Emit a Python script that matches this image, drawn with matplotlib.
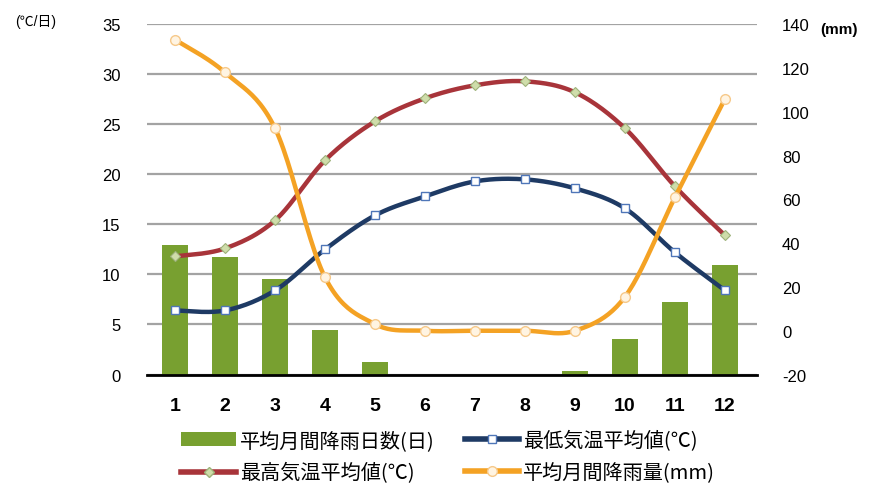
import numpy as np
import matplotlib
matplotlib.use("Agg")
import matplotlib.pyplot as plt
from matplotlib.lines import Line2D
from matplotlib.patches import Patch

plt.rcParams['font.family'] = ['Liberation Sans', 'Noto Sans CJK JP', 'DejaVu Sans']

months = [1, 2, 3, 4, 5, 6, 7, 8, 9, 10, 11, 12]
month_labels = ['1', '2', '3', '4', '5', '6', '7', '8', '9', '10', '11', '12']
rain_days = [12.9, 11.7, 9.5, 4.4, 1.2, 0, 0, 0, 0.3, 3.5, 7.2, 10.9]
temp_max = [11.8, 12.6, 15.4, 21.4, 25.3, 27.6, 28.9, 29.3, 28.2, 24.6, 18.8, 13.9]
temp_min = [6.4, 6.4, 8.4, 12.5, 15.9, 17.8, 19.3, 19.5, 18.6, 16.6, 12.2, 8.4]
rain_mm = [133, 118, 92.5, 24.4, 3, 0, 0, 0, 0, 15.5, 61, 106]

left_ticks = [0, 5, 10, 15, 20, 25, 30, 35]
right_ticks = [-20, 0, 20, 40, 60, 80, 100, 120, 140]

labels = ['平均月間降雨日数(日)', '最高気温平均値(℃)', '最低気温平均値(℃)', '平均月間降雨量(mm)']

C_BAR = '#78A030'
C_MAX = '#A8343A'
C_MIN = '#1E3A64'
C_RAIN = '#F4A224'


def smooth(x, y, n=24):
    # Excel-style smoothed line (Catmull-Rom through the points)
    x = np.asarray(x, float)
    y = np.asarray(y, float)
    px = np.concatenate([[x[0]], x, [x[-1]]])
    py = np.concatenate([[y[0]], y, [y[-1]]])
    xs, ys = [], []
    for i in range(1, len(px) - 2):
        t = np.linspace(0, 1, n, endpoint=False)
        for p, out in ((px, xs), (py, ys)):
            p0, p1, p2, p3 = p[i - 1], p[i], p[i + 1], p[i + 2]
            b1 = p1 + (p2 - p0) / 6
            b2 = p2 - (p3 - p1) / 6
            out.extend((1 - t) ** 3 * p1 + 3 * (1 - t) ** 2 * t * b1
                       + 3 * (1 - t) * t ** 2 * b2 + t ** 3 * p2)
    xs.append(x[-1])
    ys.append(y[-1])
    return np.array(xs), np.array(ys)


fig = plt.figure(figsize=(8.72, 4.85), dpi=100)
ax = fig.add_axes([147 / 872, 1 - 375.5 / 485, 610 / 872, 350.2 / 485])
ax2 = ax.twinx()

ax.bar(months, rain_days, width=0.53, color=C_BAR, zorder=2)

sx, sy = smooth(months, temp_max)
ax.plot(sx, sy, color=C_MAX, lw=3.2, zorder=3, solid_capstyle='round')
ax.plot(months, temp_max, ls='none', marker='D', ms=5, mfc='#CFDDAA', mec='#9DB27A', mew=0.8, zorder=4)

sx, sy = smooth(months, temp_min)
ax.plot(sx, sy, color=C_MIN, lw=3.2, zorder=3, solid_capstyle='round')
ax.plot(months, temp_min, ls='none', marker='s', ms=6, mfc='white', mec='#4F76B8', mew=1.0, zorder=4)

sx, sy = smooth(months, rain_mm)
ax2.plot(sx, sy, color=C_RAIN, lw=3.2, zorder=3, solid_capstyle='round')
ax2.plot(months, rain_mm, ls='none', marker='o', ms=7, mfc='#FFF4E2', mec='#F6C98A', mew=1.0, zorder=4)

ax.set_xlim(0.44, 12.64)
ax.set_ylim(0, 35)
ax2.set_ylim(-20, 140)

ax.set_yticks(left_ticks)
ax.set_yticklabels([str(v) for v in left_ticks])
ax2.set_yticks(right_ticks)
ax2.set_yticklabels([str(v) for v in right_ticks])
ax.set_xticks(months)
ax.set_xticklabels(month_labels, fontsize=14, fontweight='bold')

ax.tick_params(axis='y', length=0, pad=19, labelsize=12)
ax2.tick_params(axis='y', length=0, pad=18, labelsize=12)
ax.tick_params(axis='x', length=0, pad=16)

ax.yaxis.grid(True, color='#A3A3A3', lw=1.6)
ax.set_axisbelow(True)
for a in (ax, ax2):
    for s in ('left', 'right', 'top'):
        a.spines[s].set_visible(False)
ax.spines['bottom'].set_color('black')
ax.spines['bottom'].set_linewidth(2)
ax2.spines['bottom'].set_visible(False)

fig.text(15 / 872, 1 - 22 / 485, '(℃/日)', fontsize=10, va='center', ha='left')
fig.text(820 / 872, 1 - 30 / 485, '(mm)', fontsize=11, fontweight='bold', va='center', ha='left')

handles = [
    Patch(facecolor=C_BAR),
    Line2D([], [], color=C_MAX, lw=4, marker='D', ms=5, mfc='#CFDDAA', mec='#9DB27A'),
    Line2D([], [], color=C_MIN, lw=4, marker='s', ms=6, mfc='white', mec='#4F76B8'),
    Line2D([], [], color=C_RAIN, lw=4, marker='o', ms=7, mfc='#FFF4E2', mec='#F6C98A'),
]
fig.legend(handles, labels, ncol=2, loc='center', bbox_to_anchor=(0.514, 1 - 458 / 485),
           frameon=False, handlelength=2.7, handletextpad=0.2,
           columnspacing=1.5, labelspacing=0.55,
           prop={'family': ['Noto Sans CJK JP', 'DejaVu Sans'], 'size': 14.5})

fig.savefig('out.png', dpi=100)
